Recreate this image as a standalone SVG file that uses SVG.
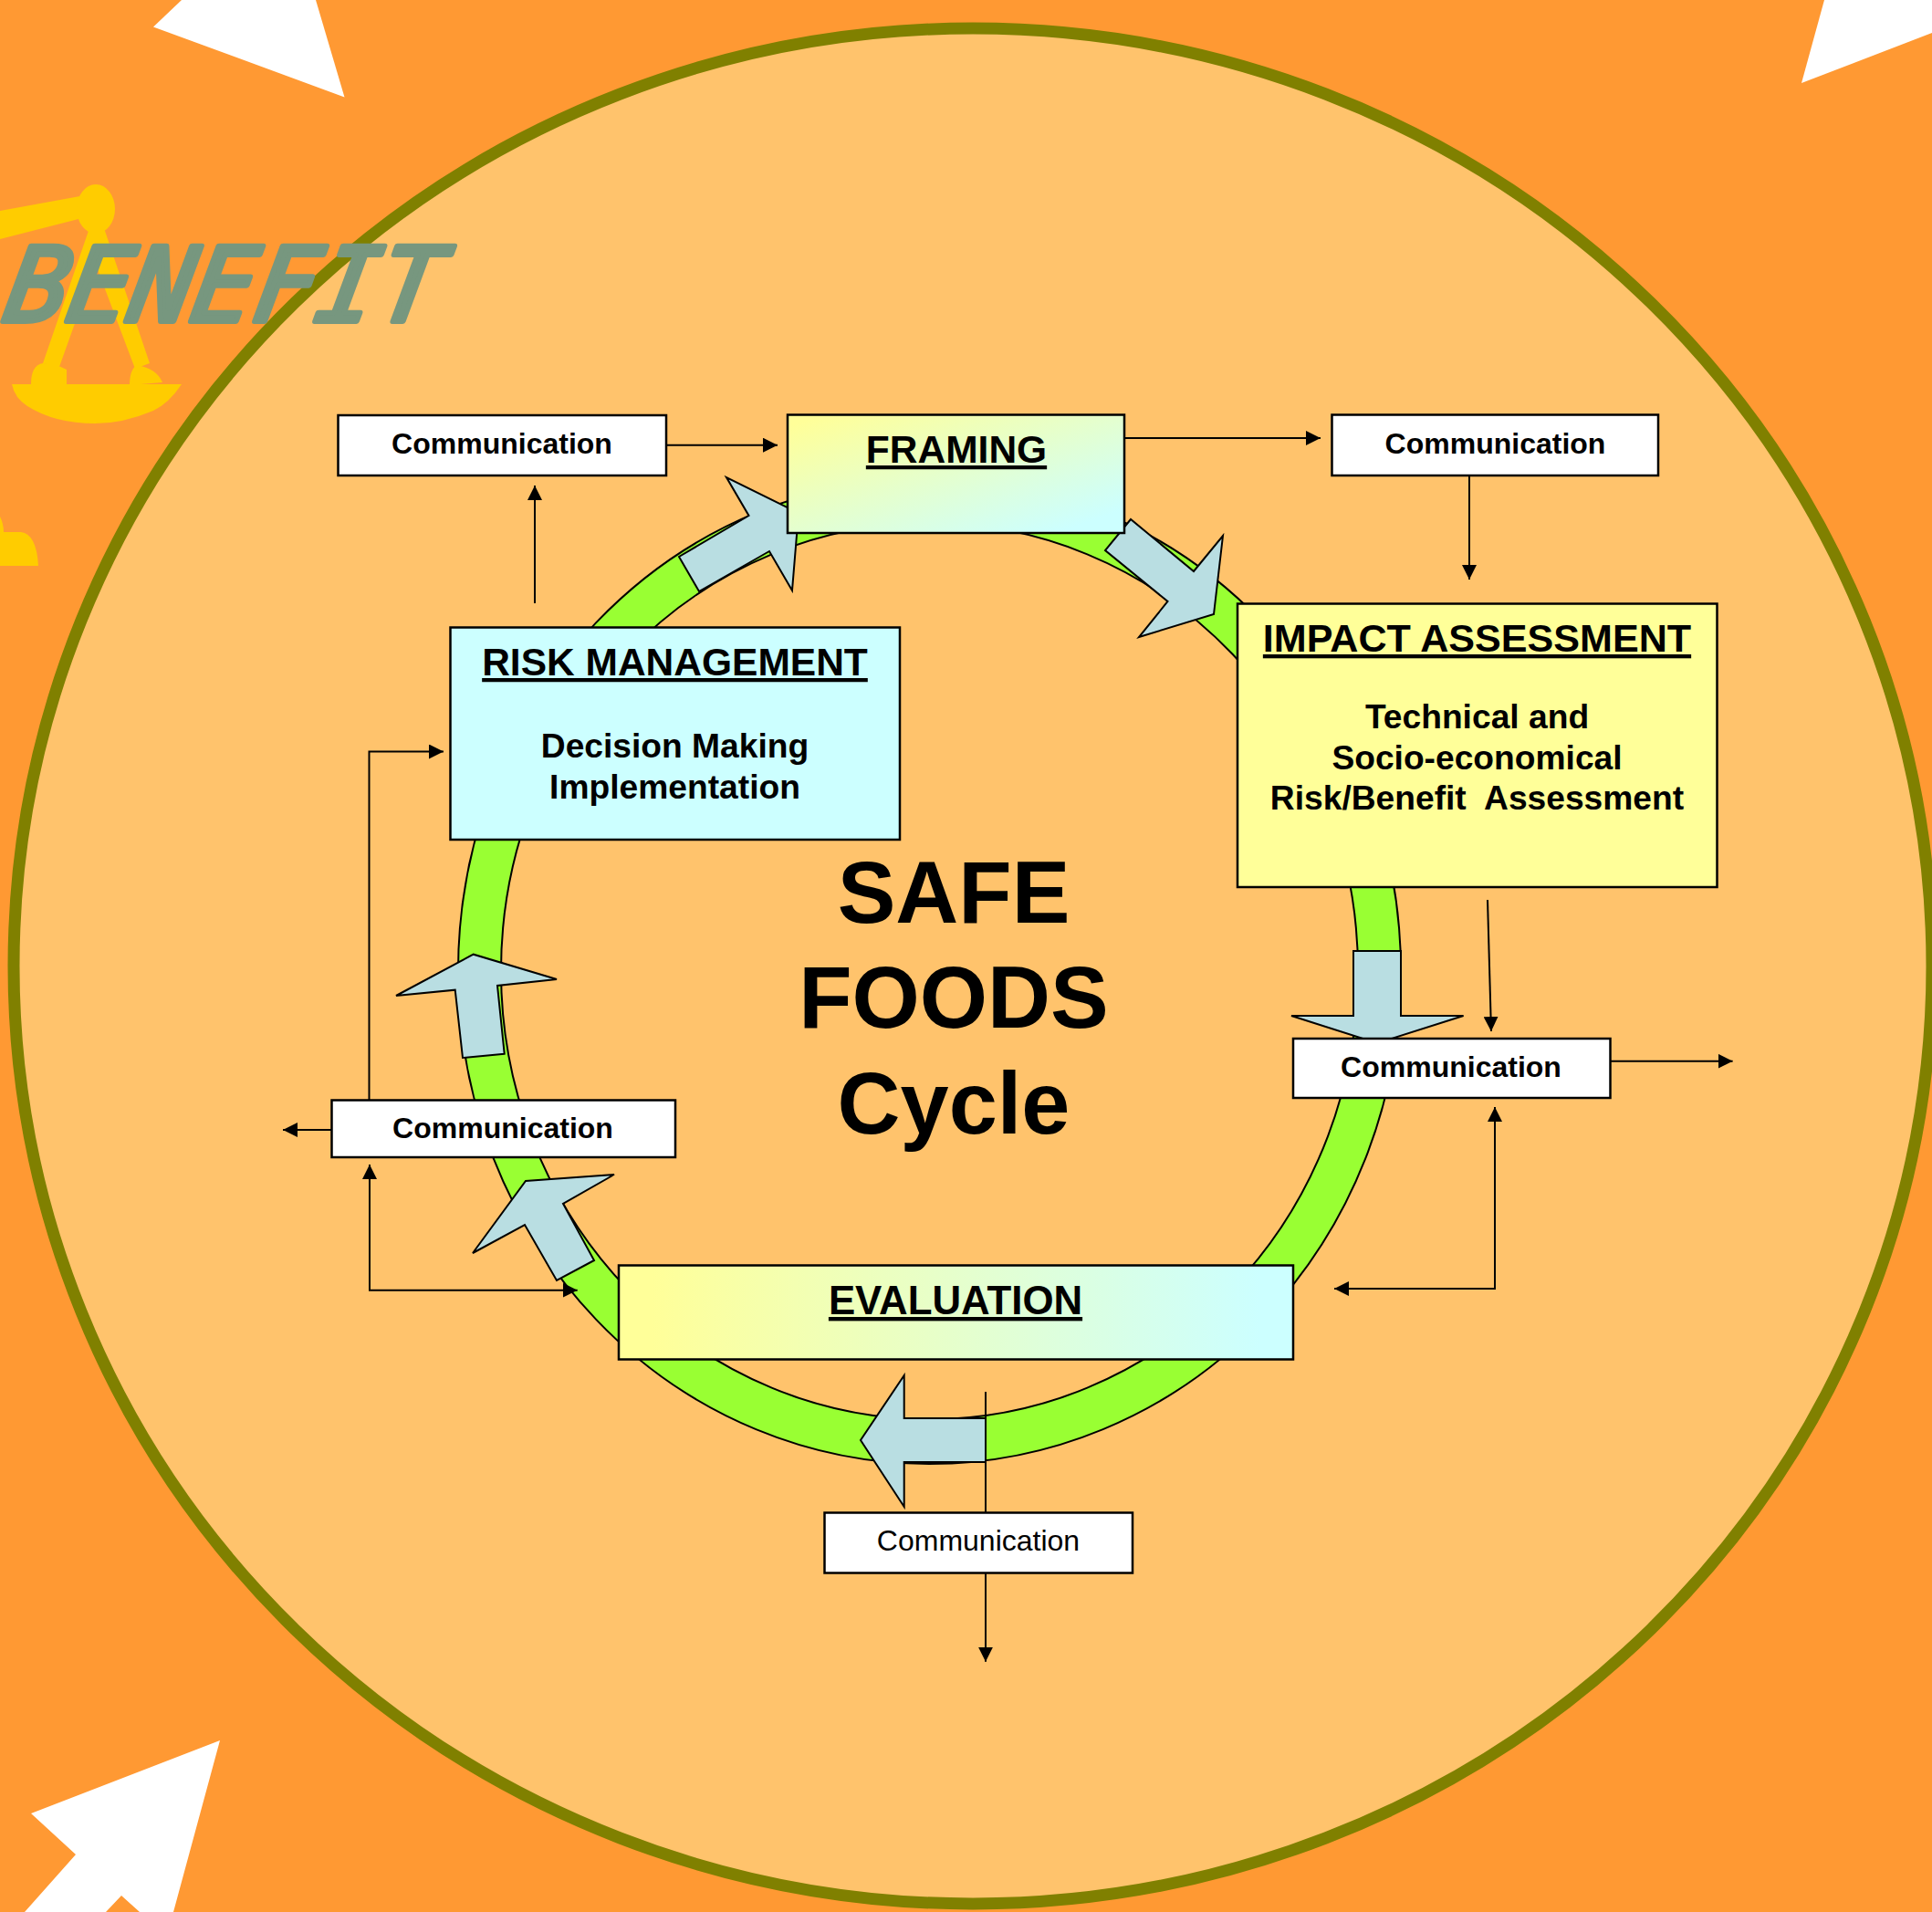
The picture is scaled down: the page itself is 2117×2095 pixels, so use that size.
<svg xmlns="http://www.w3.org/2000/svg" width="2117" height="2095" viewBox="0 0 2117 2095">
<style>
text{font-family:"Liberation Sans",Arial,sans-serif;fill:#000;text-anchor:middle}
.b{font-weight:bold}
.c{font-size:32px}
.h{font-size:42.5px;font-weight:bold;text-decoration:underline}
.s{font-size:37.2px;font-weight:bold}
.t{font-size:95.5px;font-weight:bold}
.box{stroke:#000;stroke-width:2.5}
.w{fill:#fff}
.ar{fill:#B9DEE2;stroke:#000;stroke-width:2;stroke-linejoin:miter}
.ln{fill:none;stroke:#000;stroke-width:2}
.y{fill:#FFCC00}
</style>
<defs>
<linearGradient id="gf" x1="0" y1="0" x2="1" y2="1"><stop offset="0.05" stop-color="#FFFF99"/><stop offset="0.9" stop-color="#CCFFFF"/></linearGradient>
<linearGradient id="ge" x1="0" y1="0" x2="1" y2="0"><stop offset="0.05" stop-color="#FFFF99"/><stop offset="0.95" stop-color="#CCFFFF"/></linearGradient>
<marker id="m" markerUnits="userSpaceOnUse" markerWidth="16" markerHeight="16" refX="16" refY="8" orient="auto-start-reverse"><path d="M0 0L16 8L0 16Z" fill="#000"/></marker>
</defs>
<rect width="2117" height="2095" fill="#FF9933"/>
<g id="background-arrows" fill="#fff">
<polygon points="199,0 168,29.5 377.5,106.5 346,0"/>
<polygon points="1999,0 1974,91 2117,36 2117,0"/>
<polygon points="241,1907 34,1987 83,2032 27,2095 116,2095 133,2077 153,2095 190,2095"/>
</g>
<ellipse id="outer-circle" cx="1066" cy="1058.5" rx="1051" ry="1027.5" fill="#FFC36C" stroke="#808000" stroke-width="13"/>
<g id="scale" class="y">
<path d="M0 231L87.5 215L86 240L0 262Z"/>
<ellipse cx="105" cy="229" rx="21" ry="27"/>
<path d="M98 250L47 398L65 402L105 290L148 404L164 398L114 250Z"/>
<path d="M34 421Q34 400 47 398Q60 398 73 405Q73 412 73 422Z"/>
<path d="M142 422Q142 405 150 400Q172 404 178 419Z"/>
<path d="M13 421H199Q185 442 168 450Q135 464 104 464Q60 464 30 445Q16 436 13 421Z"/>
<path d="M0 566Q4 574 4 583H23Q40 585 42 620H0Z"/>
</g>
<text id="benefit" transform="translate(0 352) skewX(-10)" x="240" y="0" font-style="italic" font-size="113" style="font-family:'DejaVu Sans Mono',monospace;fill:#77977F;stroke:#77977F;stroke-width:6;stroke-linejoin:round">BENEFIT</text>
<path id="cycle-ring" fill="#99FF33" fill-rule="evenodd" stroke="#000" stroke-width="2" d="M502 1064A516.5 540 0 1 1 1535 1064A516.5 540 0 1 1 502 1064ZM549 1064A469.5 491 0 1 0 1488 1064A469.5 491 0 1 0 549 1064Z"/>
<g id="cycle-arrows" class="ar">
<polygon points="744,610 766,648 843,604 868,647 875,562 796,523 820.5,565"/>
<polygon points="1239,569 1211,603 1279.5,659 1248,698 1330,673 1340,587 1308,626"/>
<polygon points="1483,1042 1535,1042 1535,1113 1603.6,1113 1509,1143 1415,1113 1483,1113"/>
<polygon points="1080,1554 990.7,1554 990.7,1507 943,1578 990.7,1651 990.7,1602 1080,1602"/>
<polygon points="651,1381 610,1403 575,1342 518,1373 576,1294 673,1287 617,1319"/>
<polygon points="552.7,1154.7 507,1159 498.7,1084.7 434,1091 518.7,1045.7 610,1073 545,1080"/>
</g>
<g id="connectors" class="ln">
<path d="M730 487.7H852" marker-end="url(#m)"/>
<path d="M586 661V532" marker-end="url(#m)"/>
<path d="M1232 480H1447" marker-end="url(#m)"/>
<path d="M1610 521V635" marker-end="url(#m)"/>
<path d="M1630 986L1634 1130" marker-end="url(#m)"/>
<path d="M1765 1162.7H1898.6" marker-end="url(#m)"/>
<path d="M1638 1213V1412H1462" marker-start="url(#m)" marker-end="url(#m)"/>
<path d="M363 1238H310" marker-end="url(#m)"/>
<path d="M404.5 1205V823.5H486" marker-end="url(#m)"/>
<path d="M405 1276V1413.7H632.7" marker-start="url(#m)" marker-end="url(#m)"/>
<path d="M1080 1525V1820.7" marker-end="url(#m)"/>
</g>
<g id="comm-top-left"><rect class="box w" x="370.5" y="455" width="359.5" height="66"/><text class="b c" x="550" y="497">Communication</text></g>
<g id="framing"><rect class="box" fill="url(#gf)" x="863" y="454.5" width="369" height="129.5"/><text class="h" x="1048" y="507">FRAMING</text></g>
<g id="comm-top-right"><rect class="box w" x="1459.5" y="454.5" width="357.5" height="66.5"/><text class="b c" x="1638.5" y="497">Communication</text></g>
<g id="impact-assessment"><rect class="box" fill="#FFFF99" x="1356" y="661.5" width="525.5" height="310.5"/><text class="h" style="font-size:43.1px" x="1618.5" y="714">IMPACT ASSESSMENT</text><text class="s" x="1618.5" y="798">Technical and</text><text class="s" x="1618.5" y="842.5">Socio-economical</text><text class="s" x="1618.5" y="887" style="white-space:pre">Risk/Benefit  Assessment</text></g>
<g id="risk-management"><rect class="box" fill="#CCFFFF" x="493.5" y="687.5" width="492.5" height="232.5"/><text class="h" x="739.5" y="740">RISK MANAGEMENT</text><text class="s" x="739.5" y="829.5">Decision Making</text><text class="s" x="739.5" y="874.5">Implementation</text></g>
<g id="comm-right"><rect class="box w" x="1417" y="1138" width="347.5" height="65"/><text class="b c" x="1590" y="1180">Communication</text></g>
<g id="comm-left"><rect class="box w" x="363.5" y="1205.5" width="376.5" height="62.5"/><text class="b c" x="551" y="1246.5">Communication</text></g>
<g id="evaluation"><rect class="box" fill="url(#ge)" x="678" y="1386.5" width="739" height="103"/><text class="h" style="font-size:43.8px" x="1047" y="1440">EVALUATION</text></g>
<g id="comm-bottom"><rect class="box w" x="903.5" y="1657.5" width="337.5" height="66"/><text x="1072" y="1699" font-size="32">Communication</text></g>
<g id="title"><text class="t" x="1045" y="1011">SAFE</text><text class="t" x="1045" y="1125.5">FOODS</text><text class="t" x="1045" y="1242">Cycle</text></g>
</svg>
